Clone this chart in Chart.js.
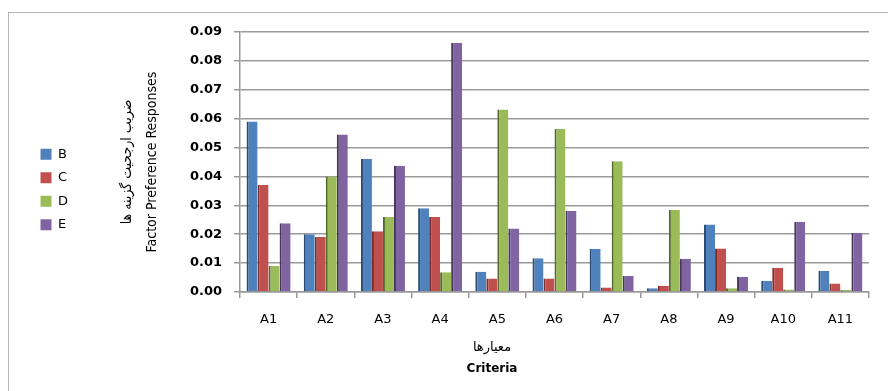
<!DOCTYPE html>
<html><head><meta charset="utf-8">
<script src="https://cdn.jsdelivr.net/npm/chart.js@4.4.0/dist/chart.umd.min.js"></script>
<style>
html,body{margin:0;padding:0;background:#fff;}
#wrap{position:relative;width:888px;height:391px;overflow:hidden;}
#frame{position:absolute;left:8px;top:12px;width:900px;height:400px;border:1px solid #b8b8b8;box-sizing:border-box;}
canvas{position:absolute;left:0;top:0;}
</style></head><body>
<div id="wrap"><div id="frame"></div><canvas id="c" width="888" height="391"></canvas></div>
<script>
const categories = ['A1','A2','A3','A4','A5','A6','A7','A8','A9','A10','A11'];
const seriesNames = ['B','C','D','E'];
const valuesB = [0.0590, 0.0200, 0.0460, 0.0290, 0.0070, 0.0117, 0.0150, 0.0013, 0.0234, 0.0039, 0.0073];
const valuesC = [0.0370, 0.0190, 0.0210, 0.0260, 0.0047, 0.0047, 0.0016, 0.0022, 0.0151, 0.0084, 0.0029];
const valuesD = [0.0090, 0.0400, 0.0260, 0.0068, 0.0632, 0.0564, 0.0453, 0.0284, 0.0013, 0.0009, 0.0007];
const valuesE = [0.0238, 0.0545, 0.0437, 0.0862, 0.0220, 0.0280, 0.0055, 0.0115, 0.0053, 0.0242, 0.0205];
const yTitleLines = ['ضریب ارجحیت گزینه ها', 'Factor Preference Responses'];
const xTitleFa = 'معیارها';
const xTitleEn = 'Criteria';

const fills = ['#4F81BD','#C0504D','#9BBB59','#8064A2'];
const sides = ['#2a4a72','#7a2f2d','#55692e','#46365c'];
const allValues = [valuesB, valuesC, valuesD, valuesE];

const LEGEND_WIDTH = 70;
const LEGEND_SHIFT = -22;

const layoutFix = {
  id: 'layoutFix',
  afterInit(chart) {
    const lg = chart.legend;
    const orig = lg.fit.bind(lg);
    lg.fit = function () { orig(); this.width = LEGEND_WIDTH; };
  },
  afterUpdate(chart) {
    chart.legend.top += LEGEND_SHIFT;
    chart.legend.bottom += LEGEND_SHIFT;
  }
};

const xTitles = {
  id: 'xTitles',
  afterDraw(chart) {
    const ctx = chart.ctx;
    ctx.save();
    ctx.fillStyle = '#000';
    ctx.textAlign = 'center';
    ctx.textBaseline = 'middle';
    ctx.font = '13px "DejaVu Sans"';
    ctx.fillText(xTitleFa, 492, 348);
    ctx.font = 'bold 12px "DejaVu Sans"';
    ctx.fillText(xTitleEn, 492, 369);
    ctx.restore();
  }
};

new Chart(document.getElementById('c'), {
  type: 'bar',
  data: {
    labels: categories,
    datasets: seriesNames.map((n, i) => ({
      label: n,
      data: allValues[i],
      backgroundColor: fills[i],
      borderColor: sides[i],
      borderWidth: {left: 2, top: 0, right: 0, bottom: 0},
      borderSkipped: false,
      barPercentage: 1.0,
      categoryPercentage: 0.77
    }))
  },
  options: {
    responsive: false,
    animation: false,
    devicePixelRatio: 1,
    layout: { padding: { left: 30, right: 19, top: 32, bottom: 0 } },
    plugins: {
      tooltip: { enabled: false },
      legend: {
        position: 'left',
        align: 'center',
        labels: {
          boxWidth: 11,
          boxHeight: 11,
          padding: 10.5,
          color: '#000',
          font: { family: '"DejaVu Sans"', size: 13 },
          generateLabels(chart) {
            return chart.data.datasets.map((ds, i) => ({
              text: ds.label,
              fillStyle: fills[i],
              strokeStyle: fills[i],
              lineWidth: 0,
              hidden: false,
              datasetIndex: i,
              fontColor: '#000'
            }));
          }
        }
      }
    },
    scales: {
      x: {
        afterFit(scale) { scale.height = 99; },
        grid: { display: true, drawOnChartArea: false, drawTicks: true, tickLength: 6, color: '#999', offset: true, lineWidth: 1.5 },
        border: { display: true, color: '#999', width: 1.5 },
        ticks: { color: '#000', padding: 14, font: { family: '"DejaVu Sans"', size: 13 }, maxRotation: 0 }
      },
      y: {
        min: 0,
        max: 0.09,
        afterFit(scale) { scale.width = 140; },
        grid: { color: '#9a9a9a', lineWidth: 1.5, tickLength: 6 },
        border: { display: true, color: '#999', width: 1.5 },
        ticks: {
          stepSize: 0.01,
          padding: 12,
          color: '#000',
          font: { family: '"DejaVu Sans"', size: 13, weight: 'bold' },
          callback: v => Number(v).toFixed(2)
        },
        title: {
          display: true,
          text: yTitleLines,
          color: '#000',
          padding: { top: 14.5, bottom: 0 },
          font: { family: '"Liberation Sans Narrow", "DejaVu Sans Condensed", "DejaVu Sans"', size: 14, lineHeight: '25px' }
        }
      }
    }
  },
  plugins: [layoutFix, xTitles]
});
</script>
</body></html>
